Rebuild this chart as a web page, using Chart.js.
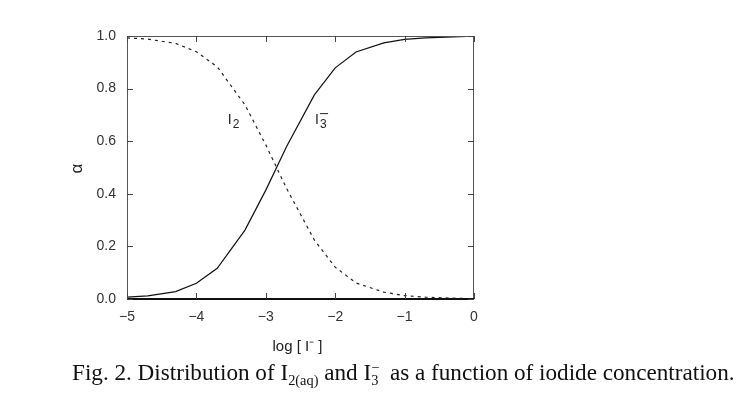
<!DOCTYPE html>
<html>
<head>
<meta charset="utf-8">
<script src="https://cdn.jsdelivr.net/npm/chart.js@4/dist/chart.umd.min.js"></script>
<style>
  html, body { margin: 0; padding: 0; background: #fff; }
  #wrap { width: 739px; height: 420px; }
</style>
</head>
<body>
<div id="wrap"><canvas id="chart"></canvas></div>
<script>
// log [I-] values where the curves were computed
const logIodide = [-5, -4.7, -4.3, -4, -3.7, -3.3, -3, -2.7, -2.3, -2, -1.7, -1.3, -1, -0.7, -0.3, 0];
// fraction of I3- (solid)
const alphaI3 = [0.007, 0.012, 0.028, 0.060, 0.117, 0.262, 0.414, 0.580, 0.776, 0.879, 0.939, 0.974, 0.987, 0.993, 0.997, 0.999];
// fraction of I2(aq) (dashed)
const alphaI2 = [0.993, 0.988, 0.972, 0.940, 0.883, 0.738, 0.586, 0.420, 0.224, 0.121, 0.061, 0.026, 0.013, 0.007, 0.003, 0.001];
const xTicks = [-5, -4, -3, -2, -1, 0];
const yTicks = [0, 0.2, 0.4, 0.6, 0.8, 1.0];

const sans = "'Liberation Sans', Arial, sans-serif";
const serif = "'Liberation Serif', 'Times New Roman', serif";
const minus = v => String(v).replace("-", "\u2212");

// inward ticks, frame, curve labels, axis titles and caption
const decorations = {
  id: "decorations",
  afterDatasetsDraw(chart) {
    const { ctx, chartArea: a, scales: { x, y } } = chart;
    ctx.save();
    ctx.strokeStyle = "#555";
    ctx.lineWidth = 1;
    ctx.strokeRect(a.left + 0.5, a.top + 0.5, a.right - a.left - 1, a.bottom - a.top);
    ctx.strokeStyle = "#111";
    ctx.lineWidth = 2;
    ctx.beginPath();
    ctx.moveTo(a.left, a.bottom);
    ctx.lineTo(a.right, a.bottom);
    ctx.stroke();

    ctx.strokeStyle = "#444";
    ctx.lineWidth = 1;
    ctx.beginPath();
    xTicks.forEach(v => {
      const px = Math.round(x.getPixelForValue(v)) + 0.5;
      ctx.moveTo(px, a.bottom); ctx.lineTo(px, a.bottom - 6);
      ctx.moveTo(px, a.top); ctx.lineTo(px, a.top + 6);
    });
    yTicks.forEach(v => {
      const py = Math.round(y.getPixelForValue(v)) + 0.5;
      ctx.moveTo(a.left, py); ctx.lineTo(a.left + 6, py);
      ctx.moveTo(a.right, py); ctx.lineTo(a.right - 6, py);
    });
    ctx.stroke();

    // curve labels
    ctx.fillStyle = "#222";
    ctx.textBaseline = "alphabetic";
    let lx = x.getPixelForValue(-3.55), ly = y.getPixelForValue(0.665);
    ctx.font = "14px " + sans;
    ctx.fillText("I", lx, ly);
    ctx.font = "12px " + sans;
    ctx.fillText("2", lx + 5, ly + 4);
    lx = x.getPixelForValue(-2.29); ly = y.getPixelForValue(0.665);
    ctx.font = "14px " + sans;
    ctx.fillText("I", lx, ly);
    ctx.font = "12px " + sans;
    ctx.fillText("3", lx + 5, ly + 4);
    ctx.fillRect(lx + 5, ly - 11, 8, 1);

    // axis titles
    ctx.font = "15px " + sans;
    ctx.textAlign = "center";
    ctx.textBaseline = "middle";
    ctx.fillText("log [ I\u207B ]", (a.left + a.right) / 2 - 3, a.bottom + 48);
    ctx.save();
    ctx.translate(a.left - 50, (a.top + a.bottom) / 2 + 1);
    ctx.rotate(-Math.PI / 2);
    ctx.font = "17px " + sans;
    ctx.fillText("\u03B1", 0, 0);
    ctx.restore();

    // caption, sized to span the same width as the printed one
    ctx.textAlign = "left";
    ctx.textBaseline = "alphabetic";
    ctx.fillStyle = "#111";
    const parts = [
      ["Fig. 2. Distribution of I", 1, 0],
      ["2(aq)", 0.62, 5],
      [" and I", 1, 0],
      ["3", 0.62, 5],
      ["  as a function of iodide concentration.", 1, 0]
    ];
    const measure = size => parts.reduce((w, [t, k]) => {
      ctx.font = (size * k) + "px " + serif;
      return w + ctx.measureText(t).width;
    }, 0);
    const size = 20 * 663 / measure(20);
    const base = 380;
    let cx = 72;
    parts.forEach(([t, k, dy]) => {
      ctx.font = (size * k) + "px " + serif;
      if (t === "3") ctx.fillText("\u2212", cx, base - 8);
      ctx.fillText(t, cx, base + dy);
      cx += ctx.measureText(t).width;
    });
    ctx.restore();
  }
};

new Chart(document.getElementById("chart"), {
  type: "line",
  data: {
    labels: logIodide,
    datasets: [
      {
        label: "I3-",
        data: logIodide.map((v, i) => ({ x: v, y: alphaI3[i] })),
        borderColor: "#111",
        borderWidth: 1.2,
        pointRadius: 0,
        tension: 0
      },
      {
        label: "I2",
        data: logIodide.map((v, i) => ({ x: v, y: alphaI2[i] })),
        borderColor: "#222",
        borderWidth: 1.2,
        borderDash: [3, 4],
        pointRadius: 0,
        tension: 0
      }
    ]
  },
  options: {
    responsive: true,
    maintainAspectRatio: false,
    animation: false,
    layout: { padding: { left: 0, right: 265, top: 36, bottom: 0 } },
    plugins: { legend: { display: false }, tooltip: { enabled: false } },
    scales: {
      x: {
        type: "linear",
        min: -5,
        max: 0,
        afterFit: s => { s.height = 121; },
        afterBuildTicks: s => { s.ticks = xTicks.map(v => ({ value: v })); },
        grid: { display: false, drawTicks: false },
        border: { display: false },
        ticks: {
          padding: 10,
          color: "#333",
          font: { family: sans, size: 14 },
          callback: v => minus(v)
        }
      },
      y: {
        min: 0,
        max: 1,
        afterFit: s => { s.width = 127; },
        afterBuildTicks: s => { s.ticks = yTicks.map(v => ({ value: v })); },
        grid: { display: false, drawTicks: false },
        border: { display: false },
        ticks: {
          padding: 11,
          color: "#333",
          font: { family: sans, size: 14 },
          callback: v => v.toFixed(1)
        }
      }
    }
  },
  plugins: [decorations]
});
</script>
</body>
</html>
